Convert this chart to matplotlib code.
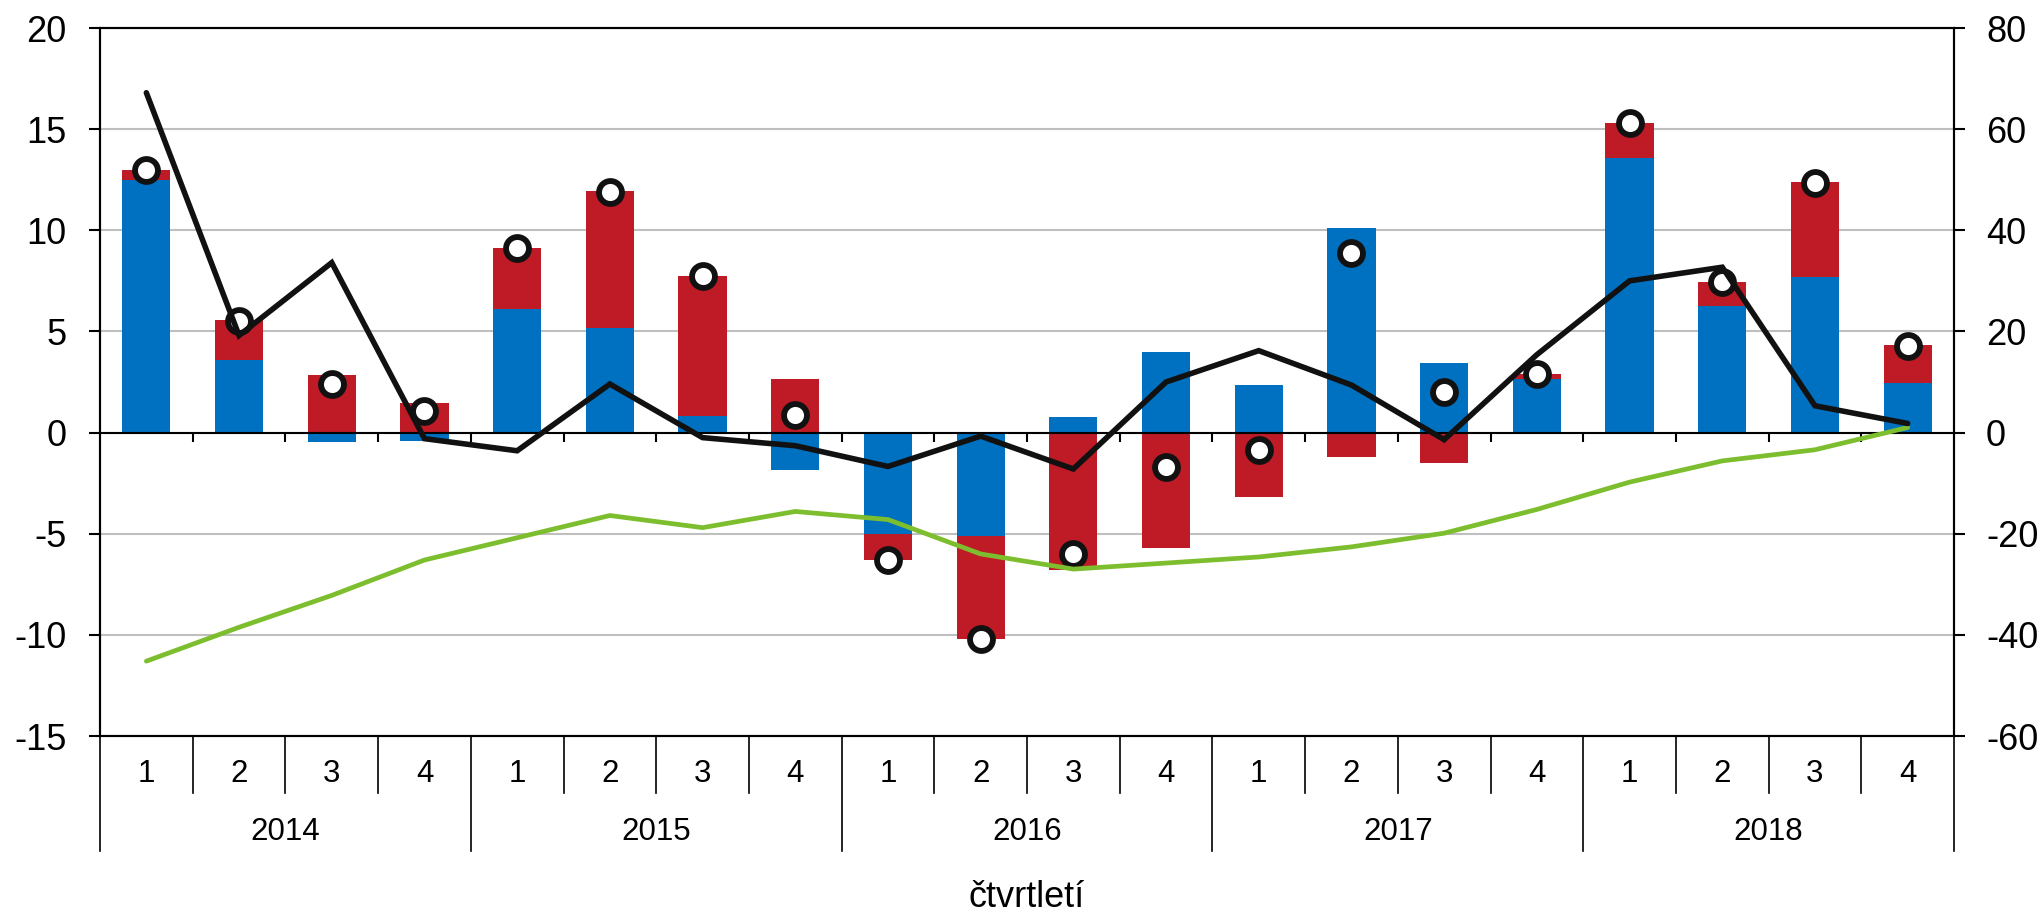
import numpy as np
import matplotlib.pyplot as plt

plt.rcParams['font.family'] = ['Liberation Sans', 'DejaVu Sans']
plt.rcParams['axes.unicode_minus'] = False

years = ['2014', '2015', '2016', '2017', '2018']
quarters = ['1', '2', '3', '4']

# left axis (bars + total dots)
blue = [12.5, 3.6, -0.45, -0.4, 6.1, 5.15, 0.8, -1.85, -5.0, -5.1,
        0.75, 4.0, 2.35, 10.1, 3.45, 2.65, 13.55, 6.25, 7.7, 2.45]
red = [0.5, 1.95, 2.85, 1.45, 3.0, 6.8, 6.95, 2.65, -1.3, -5.1,
       -6.8, -5.7, -3.2, -1.2, -1.5, 0.25, 1.75, 1.2, 4.7, 1.9]
total = [13.0, 5.5, 2.4, 1.05, 9.1, 11.9, 7.75, 0.85, -6.3, -10.2,
         -6.0, -1.7, -0.85, 8.9, 2.0, 2.9, 15.3, 7.45, 12.35, 4.3]

# right axis (lines)
black_line = [67.2, 19.2, 33.6, -1.2, -3.6, 9.6, -1.0, -2.6, -6.7, -0.7,
              -7.2, 10.0, 16.2, 9.4, -1.4, 15.4, 30.0, 32.7, 5.3, 1.8]
green_line = [-45.2, -38.5, -32.2, -25.2, -20.8, -16.4, -18.8, -15.6, -17.2, -24.0,
              -27.0, -25.8, -24.6, -22.6, -19.9, -15.2, -9.8, -5.6, -3.4, 1.0]

BLUE = '#0070C0'
RED = '#BE1B26'
GREEN = '#7DBE2F'

n = len(blue)
x = np.arange(n)
blue = np.array(blue)
red = np.array(red)
red_bottom = np.where(np.sign(red) == np.sign(blue), blue, 0)

fig = plt.figure(figsize=(20.44, 9.13), dpi=100)
ax = fig.add_axes([100 / 2044, 1 - 736 / 913, 1854 / 2044, 708 / 913])

ax.set_xlim(-0.5, n - 0.5)
ax.set_ylim(-15, 20)
ax.set_yticks(np.arange(-15, 21, 5))
ax.yaxis.grid(True, color='#BFBFBF', lw=1.5)
ax.set_axisbelow(True)

ax.bar(x, blue, width=0.52, color=BLUE, zorder=2)
ax.bar(x, red, width=0.52, bottom=red_bottom, color=RED, zorder=2)
ax.axhline(0, color='black', lw=1.5, zorder=3)
ax.vlines(np.arange(1, n) - 0.5, -0.45, 0, color='black', lw=1.5, zorder=3)

ax.plot(x, total, ls='none', marker='o', ms=16.5, mfc='white', mec='#111111',
        mew=4.2, zorder=4)

ax2 = ax.twinx()
ax2.set_ylim(-60, 80)
ax2.set_yticks(np.arange(-60, 81, 20))
ax2.plot(x, green_line, color=GREEN, lw=3.4, solid_capstyle='round')
ax2.plot(x, black_line, color='#111111', lw=4.0, solid_capstyle='round',
         solid_joinstyle='miter')

for a in (ax, ax2):
    for s in a.spines.values():
        s.set_linewidth(1.5)
        s.set_color('black')
ax.set_xticks([])
ax.tick_params(axis='y', direction='out', length=8, width=1.5, pad=16,
               labelsize=26)
ax2.tick_params(axis='y', direction='out', length=8, width=1.5, pad=15,
                labelsize=26)

# two-level category axis
tr = ax.get_xaxis_transform()
for i in range(n + 1):
    b = i - 0.5
    low = -0.1624 if i % 4 == 0 else -0.0805
    ax.plot([b, b], [0, low], color='black', lw=1.2, transform=tr, clip_on=False)
for i in range(n):
    ax.text(i, -0.0537, quarters[i % 4], transform=tr, ha='center', va='center',
            fontsize=22.5)
for j, yr in enumerate(years):
    ax.text(4 * j + 1.5, -0.1356, yr, transform=tr, ha='center', va='center',
            fontsize=22.5)
ax.text(0.5, -0.2288, 'čtvrtletí', transform=ax.transAxes, ha='center',
        va='center', fontsize=26)

fig.savefig('out.png', dpi=100)
